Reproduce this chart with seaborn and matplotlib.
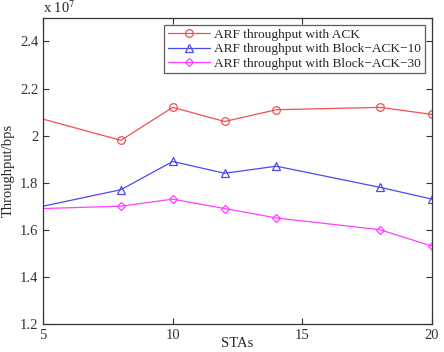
import matplotlib
matplotlib.use("Agg")
import matplotlib.pyplot as plt
from matplotlib.lines import Line2D
import seaborn as sns
import pandas as pd

stas = [5, 8, 10, 12, 14, 18, 20]
ack = [2.07, 1.98, 2.12, 2.06, 2.11, 2.12, 2.09]
back10 = [1.70, 1.77, 1.89, 1.84, 1.87, 1.78, 1.73]
back30 = [1.69, 1.70, 1.73, 1.69, 1.65, 1.60, 1.53]
labels = ["ARF throughput with ACK", "ARF throughput with Block\u2212ACK\u221210",
          "ARF throughput with Block\u2212ACK\u221230"]
xticks = [5, 10, 15, 20]
yticks = [1.2, 1.4, 1.6, 1.8, 2.0, 2.2, 2.4]
ytick_labels = ["1.2", "1.4", "1.6", "1.8", "2", "2.2", "2.4"]

sns.set_style("ticks")
plt.rcParams['font.family'] = ['Liberation Serif', 'DejaVu Serif']
plt.rcParams['mathtext.fontset'] = 'stix'

fig = plt.figure(figsize=(4.44, 3.52), dpi=100)
ax = fig.add_axes([0.097, 0.080, 0.876, 0.869])

colors = ["#f05050", "#4a4af0", "#ff40ff"]
markers = ["o", "^", "D"]
msizes = [5.5, 5.5, 4.5]
handles = []
for vals, lab, c, m, ms in zip([ack, back10, back30], labels, colors, markers, msizes):
    df = pd.DataFrame({"STAs": stas, "v": vals})
    sns.lineplot(data=df, x="STAs", y="v", ax=ax, color=c, marker=m, markersize=ms,
                 markerfacecolor="none", markeredgecolor=c, markeredgewidth=0.9,
                 linewidth=0.9, markevery=list(range(1, len(stas))), legend=False)
    handles.append(Line2D([], [], color=c, marker=m, markersize=ms, markerfacecolor="none",
                          markeredgecolor=c, markeredgewidth=0.9, linewidth=0.9, label=lab))

ax.set_xlim(5, 20)
ax.set_ylim(1.2, 2.5)
ax.set_xticks(xticks)
ax.set_xticklabels([str(t) for t in xticks])
ax.set_yticks(yticks)
ax.set_yticklabels(ytick_labels)
ax.tick_params(direction="in", top=True, right=True, labelsize=10.5, length=4, width=0.8, colors="#333333")
for s in ax.spines.values():
    s.set_linewidth(0.9)
    s.set_color("#333333")
ax.set_xlabel("STAs", fontsize=10.5, labelpad=0)
ax.xaxis.set_label_coords(0.5, -0.043)
ax.set_ylabel("Throughput/bps", fontsize=10.5, labelpad=4)
ax.text(0.0, 1.005, r"x 10$^7$", transform=ax.transAxes, fontsize=10.5, ha="left", va="bottom")

leg = ax.legend(handles=handles, loc="upper right", fontsize=9.6, frameon=True, fancybox=False,
                edgecolor="#333333", borderpad=0.25, labelspacing=0.15, handlelength=3.2,
                handletextpad=0.3, borderaxespad=0.55)
leg.get_frame().set_linewidth(0.9)

fig.savefig("out.png", dpi=100)
